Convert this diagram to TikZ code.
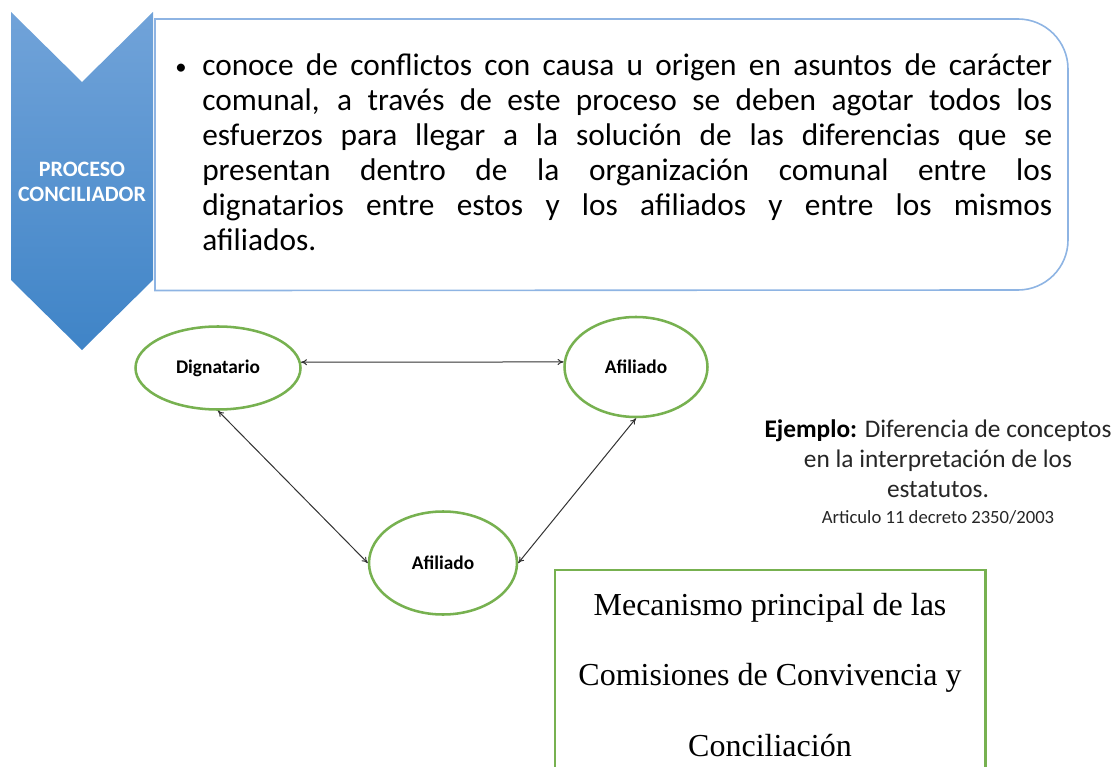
\documentclass[tikz,border=0pt]{standalone}
\usepackage{fontspec}
\setmainfont{Carlito}
\newfontfamily\tnr{Liberation Serif}
\usetikzlibrary{arrows.meta,shapes.geometric}
\definecolor{chevtop}{HTML}{71A3D9}
\definecolor{chevbot}{HTML}{3F84C7}
\definecolor{boxblue}{HTML}{8EB4E3}
\definecolor{ellgreen}{HTML}{77B150}
\definecolor{arrowgray}{HTML}{333333}
\tikzset{
  ell/.style={ellipse, draw=ellgreen, line width=1.9pt, fill=white, font=\bfseries\fontsize{14.5pt}{17pt}\selectfont},
  link/.style={draw=arrowgray, line width=0.75pt, {To[length=4.5pt,width=4.5pt]}-{To[length=4.5pt,width=4.5pt]}},
}
\begin{document}
\begin{tikzpicture}[x=0.75pt,y=-0.75pt]
\useasboundingbox (0,0) rectangle (1118,767);
% chevron
\shade[top color=chevtop, bottom color=chevbot] (11,12) -- (82,82) -- (153,12) -- (153,280) -- (82,350) -- (11,280) -- cycle;
\node[text=white, align=center, font=\bfseries\fontsize{16.5pt}{18.75pt}\selectfont] (chev) at (82,182) {PROCESO\\CONCILIADOR};
% text box
\node[minimum width=684.75pt, minimum height=203.25pt, anchor=north west, inner sep=0pt] (tbox) at (155,19) {};
\draw[boxblue, line width=1.2pt] (tbox.south west) -- (tbox.north west) -- (1018,19) .. controls (1045.6,19) and (1068,41.4) .. (1068,69) -- (1068,240) .. controls (1068,267.6) and (1045.6,290) .. (1018,290) -- cycle;
\node[anchor=north west, text width=637.5pt, align=justify, inner sep=0pt, font=\fontsize{23.5pt}{26.25pt}\selectfont] (btext) at (202,53) {conoce de conflictos con causa u origen en asuntos de carácter\linebreak comunal, a través de este proceso se deben agotar todos los\linebreak esfuerzos para llegar a la solución de las diferencias que se\linebreak presentan dentro de la organización comunal entre los\linebreak dignatarios entre estos y los afiliados y entre los mismos\linebreak afiliados.};
\node[font=\fontsize{17pt}{20pt}\selectfont, anchor=base] (bul) at (181,75) {•};
% ellipses
\node[ell, minimum width=123.75pt, minimum height=62.25pt] (dig) at (218,368) {Dignatario};
\node[ell, minimum width=107.25pt, minimum height=75pt] (afr) at (636,367) {Afiliado};
\node[ell, minimum width=111pt, minimum height=77.25pt] (afb) at (443,563) {Afiliado};
\draw[link] (dig.4) -- (afr.176);
\draw[link] (dig.south) -- (afb.west);
\draw[link] (afr.south) -- (afb.east);
% ejemplo
\node[align=center, font=\fontsize{19pt}{22.5pt}\selectfont, text=black!85] (ej) at (938,459) {\textbf{\color{black}Ejemplo:} Diferencia de conceptos\\en la interpretación de los\\estatutos.};
\node[font=\fontsize{14pt}{16pt}\selectfont, text=black!85] (art) at (938,517) {Articulo 11 decreto 2350/2003};
% mecanismo
\node[minimum width=322.5pt, minimum height=147.75pt, anchor=north west, inner sep=0pt] (mec) at (555,570) {};
\draw[ellgreen, line width=1.9pt] (mec.south west) -- (mec.north west) -- (mec.north east) -- (mec.south east);
\node[align=center, font=\tnr\fontsize{24pt}{53pt}\selectfont] (mectext) at (770,675) {Mecanismo principal de las\\Comisiones de Convivencia y\\Conciliación};
\end{tikzpicture}
\end{document}
